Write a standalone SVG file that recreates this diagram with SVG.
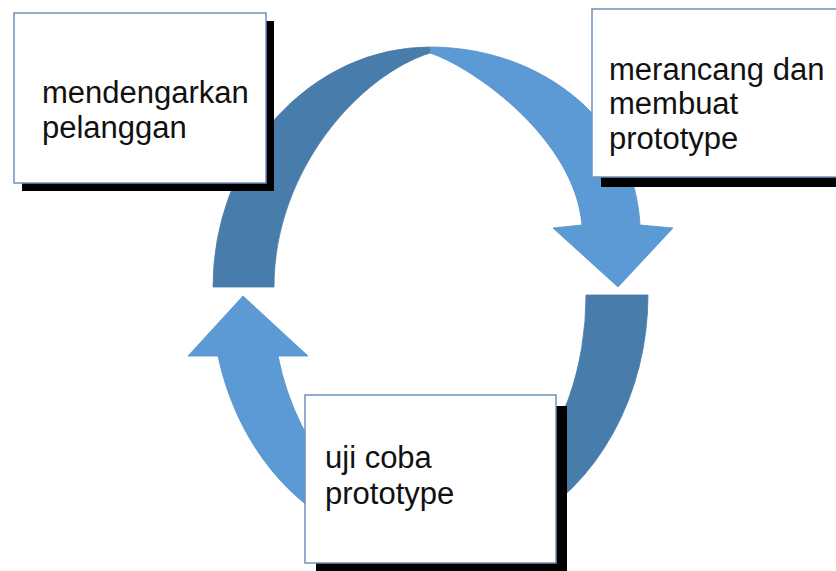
<svg xmlns="http://www.w3.org/2000/svg" width="836" height="571" viewBox="0 0 836 571">
<defs>
<style>
.box{fill:#ffffff;stroke:#6E92BF;stroke-width:1.5}
.shadow{fill:#000000}
.lbl{font-family:"Liberation Sans",Arial,sans-serif;font-size:31px;fill:#111111}
.dark{fill:#487CAB;stroke:#457AA8;stroke-width:0.8}
.light{fill:#5B9AD5;stroke:#5290CA;stroke-width:0.8}
</style>
</defs>
<rect width="836" height="571" fill="#ffffff"/>
<g id="connectors">
<path id="arc-top-back" class="dark" d="M213,287 A217,240 0 0 1 430,47 L430,53 C360,75 274,170 274,287 Z"/>
<path id="arrow-top" class="light" d="M430,47 C540,47 635,120 640,225 L673,228 L618,287 L553,228 L582,225 C575,140 475,68 430,53 Z"/>
<path id="arc-bottom-back" class="dark" d="M648,295 A218,255 0 0 1 520,527 L520,479 A156,225 0 0 0 586,295 Z"/>
<path id="arrow-bottom" class="light" d="M243,296 L308,356 L278,356 A156,225 0 0 0 340,479 L340,527 A218,255 0 0 1 218,356 L188,356 Z"/>
</g>
<g id="node-mendengarkan">
<rect class="shadow" x="22" y="21" width="252" height="170"/>
<rect class="box" x="14" y="13" width="252" height="170"/>
<text class="lbl" x="42" y="103">mendengarkan</text>
<text class="lbl" x="42" y="138">pelanggan</text>
</g>
<g id="node-merancang">
<rect class="shadow" x="601" y="19" width="260" height="168"/>
<rect class="box" x="592" y="9" width="260" height="168"/>
<text class="lbl" x="609" y="80">merancang dan</text>
<text class="lbl" x="609" y="114">membuat</text>
<text class="lbl" x="609" y="149">prototype</text>
</g>
<g id="node-ujicoba">
<rect class="shadow" x="316" y="406" width="251" height="168"/>
<rect class="box" x="305" y="395" width="251" height="168"/>
<text class="lbl" x="325" y="468">uji coba</text>
<text class="lbl" x="325" y="504">prototype</text>
</g>
</svg>
